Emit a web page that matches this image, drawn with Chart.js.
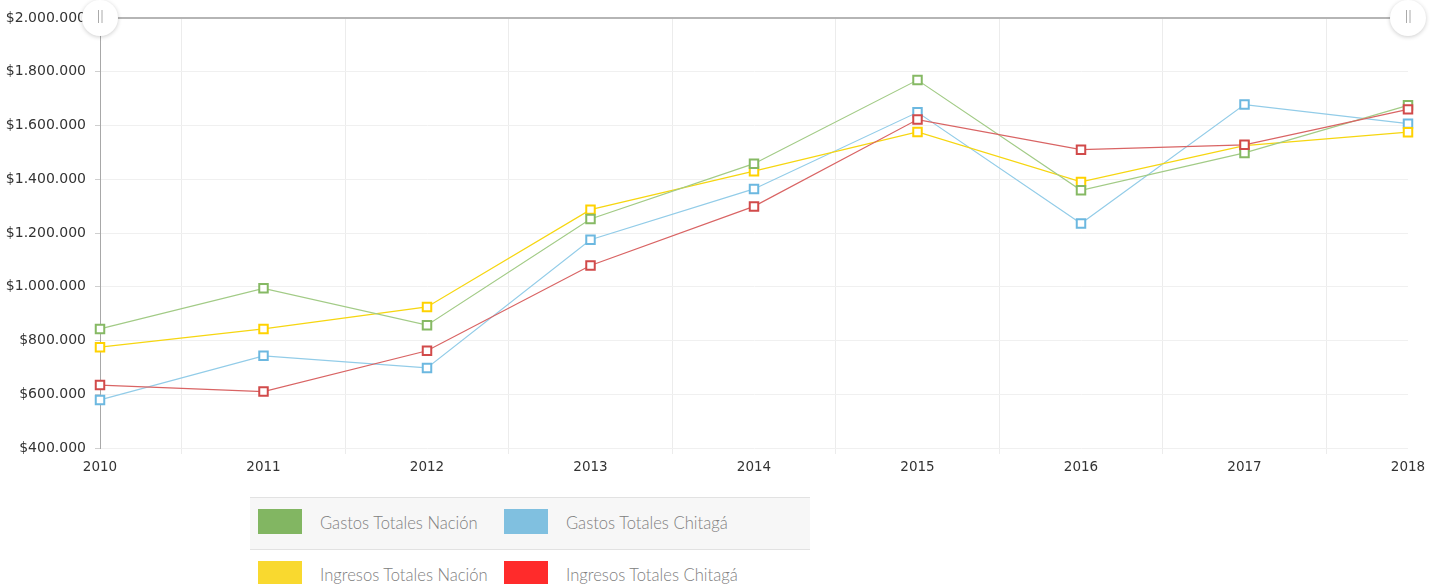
<!DOCTYPE html>
<html>
<head>
<meta charset="utf-8">
<script src="https://cdn.jsdelivr.net/npm/chart.js@4"></script>
<style>
  body { margin: 0; background: #fff; width: 1442px; height: 584px; overflow: hidden; position: relative; }
  #wrap { position: absolute; left: 0; top: 0; width: 1442px; height: 482px; }
  #legend { position: absolute; left: 250px; top: 497px; width: 560px; border-collapse: collapse;
    font-family: Lato, "Open Sans", sans-serif; font-weight: 300; font-size: 16.6px; color: #808080; }
  #legend td { height: 51px; padding: 0 0 0 8px; border-top: 1px solid #e2e2e2; white-space: nowrap; }
  #legend tr:first-child td { background: #f7f7f7; }
  #legend .sw { display: inline-block; width: 44px; height: 25px; vertical-align: middle; margin-right: 18px; margin-top: -5px; }
</style>
</head>
<body>
<div id="wrap"><canvas id="grafico"></canvas></div>
<table id="legend"></table>
<script>
// years and series (COP)
const years = [2010, 2011, 2012, 2013, 2014, 2015, 2016, 2017, 2018];
const gastosNacion = [843000, 994000, 857000, 1252000, 1458000, 1769000, 1359000, 1498000, 1675000];
const gastosChitaga = [579000, 743000, 698000, 1175000, 1364000, 1649000, 1235000, 1678000, 1607000];
const ingresosNacion = [775000, 843000, 925000, 1287000, 1430000, 1576000, 1390000, 1525000, 1575000];
const ingresosChitaga = [634000, 610000, 762000, 1079000, 1299000, 1622000, 1510000, 1528000, 1660000];

const series = [
  { label: "Gastos Totales Nación", data: gastosNacion, swatch: "#82b662", line: "#a2cb86", point: "#86b964", order: 1 },
  { label: "Gastos Totales Chitagá", data: gastosChitaga, swatch: "#80c0e0", line: "#92cce8", point: "#6cb8e0", order: 3 },
  { label: "Ingresos Totales Nación", data: ingresosNacion, swatch: "#f9d92f", line: "#f6d610", point: "#ffd200", order: 2 },
  { label: "Ingresos Totales Chitagá", data: ingresosChitaga, swatch: "#ff2b2b", line: "#d96464", point: "#d14a4a", order: 0 },
];

function pesos(v) {
  return "$" + String(v).replace(/\B(?=(\d{3})+(?!\d))/g, ".");
}

// legend table, two per row
var legend = document.getElementById("legend");
for (var i = 0; i < series.length; i += 2) {
  var tr = document.createElement("tr");
  for (var j = i; j < i + 2; j++) {
    var td = document.createElement("td");
    td.style.width = j % 2 === 0 ? "238px" : "auto";
    td.innerHTML = '<span class="sw" style="background:' + series[j].swatch + '"></span>' + series[j].label;
    tr.appendChild(td);
  }
  legend.appendChild(tr);
}

// range slider handles on top
const slider = {
  id: "slider",
  afterDraw(chart) {
    const ctx = chart.ctx;
    const a = chart.chartArea;
    const y = a.top;
    ctx.save();
    ctx.strokeStyle = "#b5b5b5";
    ctx.lineWidth = 2;
    ctx.beginPath();
    ctx.moveTo(a.left, y);
    ctx.lineTo(a.right, y);
    ctx.stroke();
    [a.left, a.right].forEach(function (x) {
      ctx.save();
      ctx.shadowColor = "rgba(0,0,0,0.2)";
      ctx.shadowBlur = 4;
      ctx.shadowOffsetY = 1;
      ctx.fillStyle = "#fff";
      ctx.beginPath();
      ctx.arc(x, y, 18, 0, Math.PI * 2);
      ctx.fill();
      ctx.restore();
      ctx.strokeStyle = "#aaaaaa";
      ctx.lineWidth = 1;
      ctx.beginPath();
      ctx.moveTo(x - 1.5, y - 8); ctx.lineTo(x - 1.5, y + 5);
      ctx.moveTo(x + 2, y - 8); ctx.lineTo(x + 2, y + 5);
      ctx.stroke();
    });
    ctx.restore();
  },
};

new Chart("grafico", {
  type: "line",
  data: {
    datasets: series.map(function (s) {
      return {
        label: s.label,
        data: s.data.map(function (v, k) { return { x: years[k], y: v }; }),
        borderColor: s.line,
        borderWidth: 1.2,
        pointStyle: "rect",
        pointRadius: 6,
        pointBorderWidth: 2,
        pointBorderColor: s.point,
        pointBackgroundColor: "#fff",
        tension: 0,
        clip: false,
        order: s.order,
      };
    }),
  },
  plugins: [slider],
  options: {
    responsive: true,
    maintainAspectRatio: false,
    animation: false,
    layout: { padding: { top: 18, right: 34, left: 0, bottom: 0 } },
    plugins: { legend: { display: false }, tooltip: { enabled: false } },
    scales: {
      x: {
        type: "linear",
        min: 2010,
        max: 2018,
        afterFit: function (s) { s.height = 34; },
        ticks: {
          stepSize: 0.5,
          autoSkip: false,
          maxRotation: 0,
          padding: 5,
          color: "#333",
          font: { family: "DejaVu Sans", size: 13.5 },
          callback: function (v) { return v % 1 === 0 ? String(v) : ""; },
        },
        grid: {
          color: function (c) { return c.tick && c.tick.value % 1 !== 0 ? "#ececec" : "rgba(0,0,0,0)"; },
          tickColor: function (c) { return c.tick && c.tick.value % 1 !== 0 ? "#ececec" : "rgba(0,0,0,0)"; },
          tickLength: 6,
        },
        border: { display: false },
      },
      y: {
        min: 400000,
        max: 2000000,
        afterFit: function (s) { s.width = 100; },
        ticks: {
          stepSize: 200000,
          padding: 9,
          color: "#333",
          font: { family: "DejaVu Sans", size: 14 },
          callback: function (v) { return pesos(v); },
        },
        grid: { color: "#f0f0f0", tickColor: "#cfcfcf", tickLength: 5 },
        border: { color: "#a8a8a8", width: 1 },
      },
    },
  },
});
</script>
</body>
</html>
